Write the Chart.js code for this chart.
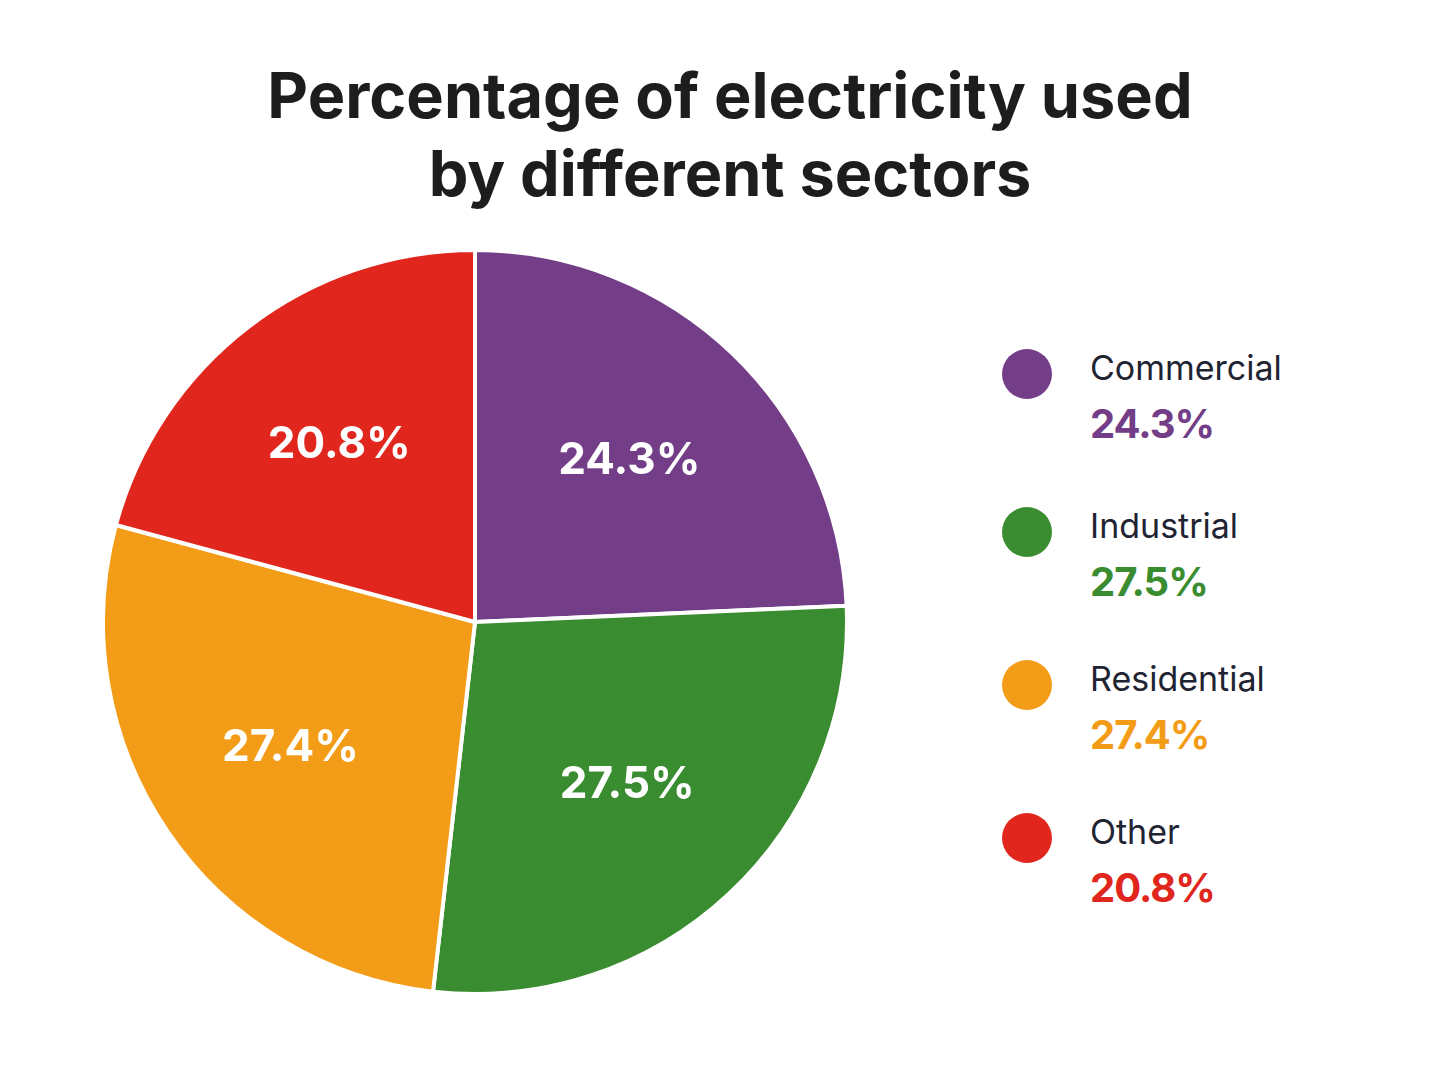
<!DOCTYPE html>
<html>
<head>
<meta charset="utf-8">
<script src="https://cdn.jsdelivr.net/npm/chart.js@4/dist/chart.umd.min.js"></script>
<style>
  body { margin:0; width:1448px; height:1086px; background:#fff; font-family:Inter, "Noto Sans", sans-serif; position:relative; overflow:hidden; }
  h1 { position:absolute; top:56px; left:0; width:1460px; margin:0; text-align:center; font-size:63px; line-height:78px; font-weight:700; color:#1d1d1d; letter-spacing:0px; }
  #wrap { position:absolute; left:101px; top:244px; width:748px; height:756px; }
  .leg { position:absolute; left:1002px; }
  .dot { position:absolute; left:0; top:4px; width:50px; height:50px; border-radius:50%; }
  .name { position:absolute; left:88px; top:2px; font-size:34px; color:#1f2433; white-space:nowrap; }
  .val { position:absolute; left:88px; top:54px; font-size:40px; font-weight:700; white-space:nowrap; letter-spacing:-1px; }
</style>
</head>
<body>
<h1>Percentage of electricity used<br>by different sectors</h1>
<div id="wrap"><canvas id="c"></canvas></div>
<div id="legend"></div>
<script>
const labels = ['Commercial', 'Industrial', 'Residential', 'Other'];
const values = [24.3, 27.5, 27.4, 20.8];
const colors = ['#733d87', '#3a8c30', '#f29c17', '#e0261d'];
const legendTops = [345, 503, 656, 809];

const sliceLabels = {
  id: 'sliceLabels',
  afterDatasetsDraw(chart) {
    const ctx = chart.ctx;
    const meta = chart.getDatasetMeta(0);
    ctx.save();
    ctx.fillStyle = '#fff';
    ctx.font = '700 44px Inter, "Noto Sans", sans-serif';
    ctx.textAlign = 'center';
    ctx.textBaseline = 'middle';
    meta.data.forEach((arc, i) => {
      const a = (arc.startAngle + arc.endAngle) / 2;
      const r = arc.outerRadius * 0.6;
      ctx.fillText(values[i].toFixed(1) + '%', arc.x + Math.cos(a) * r, arc.y + Math.sin(a) * r);
    });
    ctx.restore();
  }
};

new Chart(document.getElementById('c'), {
  type: 'pie',
  data: {
    labels: labels,
    datasets: [{ data: values, backgroundColor: colors, borderColor: '#fff', borderWidth: 4 }]
  },
  options: {
    responsive: true,
    maintainAspectRatio: false,
    animation: false,
    plugins: { legend: { display: false }, tooltip: { enabled: false } }
  },
  plugins: [sliceLabels]
});

const legend = document.getElementById('legend');
labels.forEach((l, i) => {
  const d = document.createElement('div');
  d.className = 'leg';
  d.style.top = legendTops[i] + 'px';
  d.innerHTML = '<div class="dot" style="background:' + colors[i] + '"></div>' +
    '<div class="name">' + l + '</div>' +
    '<div class="val" style="color:' + colors[i] + '">' + values[i].toFixed(1) + '%</div>';
  legend.appendChild(d);
});
</script>
</body>
</html>
